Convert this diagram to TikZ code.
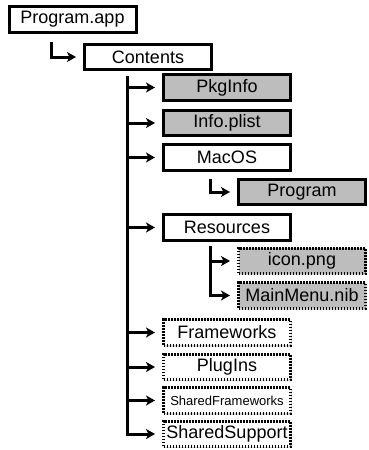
\documentclass[tikz,border=0pt]{standalone}
\usepackage{fontspec}
\setmainfont{Liberation Sans}
\usetikzlibrary{arrows.meta, shadows}
\definecolor{filegray}{HTML}{BDBDBD}

\tikzset{
  dir/.style={draw, line width=3pt, fill=white, minimum width=127pt,
    minimum height=25.5pt, inner sep=0pt, font=\fontsize{18}{21}\selectfont,
    drop shadow={shadow xshift=1.5pt, shadow yshift=-1.5pt, opacity=0.35}},
  file/.style={dir, fill=filegray},
  opt/.style={dash pattern=on 1.6pt off 1.4pt},
  link/.style={line width=3pt, -{Stealth[length=9pt, width=10pt, inset=2.5pt]},
    shorten >=7pt},
}

\begin{document}
\begin{tikzpicture}[x=1pt, y=-1pt]

  \useasboundingbox (0,0) rectangle (368,450);

  % bundle and its contents folder
  \node[dir] (app) at (72.5,19.5) {Program.app};
  \node[dir] (contents) at (148,57) {Contents};

  % entries of Contents
  \node[file] (pkginfo) at (227,87.5) {PkgInfo};
  \node[file] (infoplist) at (227,123) {Info.plist};
  \node[dir] (macos) at (227,157.5) {MacOS};
  \node[file] (prog) at (302,192) {Program};
  \node[dir] (res) at (227,227.5) {Resources};
  \node[file, opt] (icon) at (302,261) {icon.png};
  \node[file, opt] (mainmenu) at (302,295.5) {MainMenu.nib};
  \node[dir, opt] (frameworks) at (227,332.5) {Frameworks};
  \node[dir, opt] (plugins) at (227,367) {PlugIns};
  \node[dir, opt, font=\fontsize{13}{15}\selectfont] (sharedfw) at (227,400.5) {SharedFrameworks};
  \node[dir, opt] (sharedsup) at (227,434) {SharedSupport};

  % connectors
  \coordinate (a0) at (51,42);
  \draw[link] (a0) |- (contents.west);

  \coordinate (trunk) at (127,76);
  \foreach \n in {pkginfo, infoplist, macos, res, frameworks, plugins, sharedfw, sharedsup}
    \draw[link] (trunk) |- (\n.west);

  \coordinate (m0) at (210,179);
  \draw[link] (m0) |- (prog.west);

  \coordinate (r0) at (210,246);
  \draw[link] (r0) |- (icon.west);
  \draw[link] (r0) |- (mainmenu.west);

\end{tikzpicture}
\end{document}
